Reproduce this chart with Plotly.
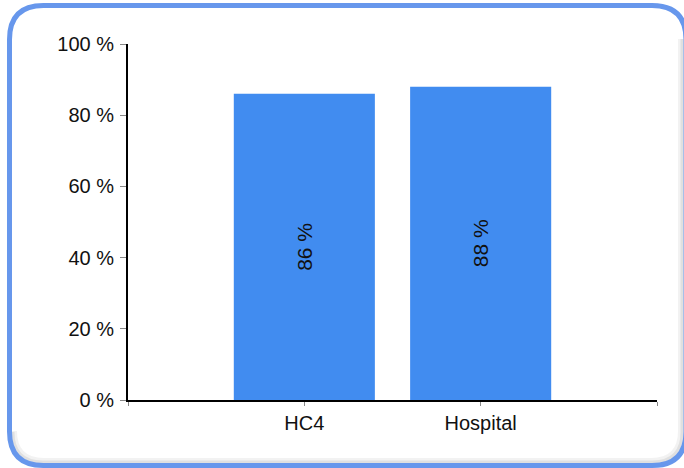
import plotly.graph_objects as go

# Share of respondents per site
categories = ["HC4", "Hospital"]
values = [86, 88]
y_ticks = [0, 20, 40, 60, 80, 100]
y_tick_labels = [f"{v} %" for v in y_ticks]
bar_labels = [f"{v} %" for v in values]

W, H = 684, 468
M_L, M_R, M_T, M_B = 128, 27, 44, 68
PW, PH = W - M_L - M_R, H - M_T - M_B

FONT = "Liberation Sans, Arial, sans-serif"
BAR_BLUE = "#418cf0"
FRAME_BLUE = "#6797ec"


def px_to_paper(x, y):
    return (x - M_L) / PW, (H - M_B - y) / PH


def P(x, y):
    px, py = px_to_paper(x, y)
    return f"{px:.5f},{py:.5f}"


def rounded_rect_path(x0, y0, x1, y1, r):
    # quadratic-corner rounded rectangle in paper coordinates
    return " ".join([
        "M " + P(x0 + r, y0),
        "L " + P(x1 - r, y0),
        "Q " + P(x1, y0) + " " + P(x1, y0 + r),
        "L " + P(x1, y1 - r),
        "Q " + P(x1, y1) + " " + P(x1 - r, y1),
        "L " + P(x0 + r, y1),
        "Q " + P(x0, y1) + " " + P(x0, y1 - r),
        "L " + P(x0, y0 + r),
        "Q " + P(x0, y0) + " " + P(x0 + r, y0),
        "Z",
    ])


def shadow_path(x0, y0, x1, y1, r):
    # inner shade along the bottom and right edges
    return " ".join([
        "M " + P(x0, y1 - r),
        "Q " + P(x0, y1) + " " + P(x0 + r, y1),
        "L " + P(x1 - r, y1),
        "Q " + P(x1, y1) + " " + P(x1, y1 - r),
        "L " + P(x1, y0 + r),
    ])


positions = list(range(len(categories)))

fig = go.Figure(
    go.Bar(
        x=positions,
        y=values,
        width=0.8,
        marker=dict(color=BAR_BLUE, line=dict(width=0)),
        text=bar_labels,
        textposition="inside",
        insidetextanchor="middle",
        textangle=-90,
        insidetextfont=dict(family=FONT, size=21, color="#111111"),
        constraintext="none",
        hoverinfo="skip",
    )
)

fig.update_layout(
    width=W,
    height=H,
    margin=dict(l=M_L, r=M_R, t=M_T, b=M_B, autoexpand=False),
    paper_bgcolor="white",
    plot_bgcolor="white",
    showlegend=False,
    font=dict(family=FONT, size=20, color="#111111"),
    xaxis=dict(
        range=[-1, len(categories)],
        tickmode="array",
        tickvals=[-1] + positions + [len(categories)],
        ticktext=[""] + categories + [""],
        ticks="outside",
        ticklen=4,
        tickwidth=1,
        tickcolor="#888888",
        showline=True,
        linecolor="black",
        linewidth=2,
        showgrid=False,
        zeroline=False,
        fixedrange=True,
    ),
    yaxis=dict(
        range=[0, 100],
        tickmode="array",
        tickvals=y_ticks,
        ticktext=y_tick_labels,
        ticks="outside",
        ticklen=6,
        tickwidth=1,
        tickcolor="#888888",
        ticklabelstandoff=2,
        showline=True,
        linecolor="black",
        linewidth=2,
        showgrid=False,
        zeroline=False,
        fixedrange=True,
    ),
    shapes=[
        dict(
            type="path",
            xref="paper",
            yref="paper",
            path=shadow_path(14, 9, 681, 461, 30),
            line=dict(color="rgba(0,0,0,0.05)", width=6),
            layer="above",
        ),
        dict(
            type="path",
            xref="paper",
            yref="paper",
            path=shadow_path(13, 9, 682, 462, 30),
            line=dict(color="rgba(0,0,0,0.07)", width=3),
            layer="above",
        ),
        dict(
            type="path",
            xref="paper",
            yref="paper",
            path=rounded_rect_path(9.5, 5.5, 686, 465.5, 34),
            line=dict(color=FRAME_BLUE, width=5),
            layer="above",
        ),
    ],
)

fig.write_html("out.html", config={"displayModeBar": False})
